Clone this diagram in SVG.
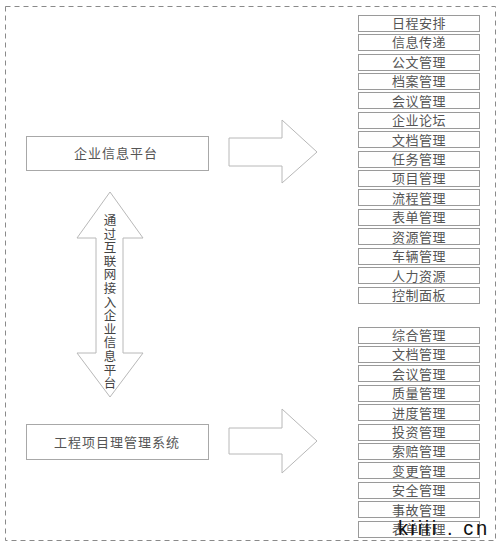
<svg xmlns="http://www.w3.org/2000/svg" width="500" height="547" viewBox="0 0 500 547">
<style>
.frame{fill:none;stroke:#8a8a8a;stroke-width:1;stroke-dasharray:5,4}
.box{fill:#fff;stroke:#9a9a9a;stroke-width:1}
.big{fill:#fff;stroke:#a8a8a8;stroke-width:1}
.arr{fill:#fff;stroke:#b8b8b8;stroke-width:1}
.t{font-family:"Noto Sans CJK SC","Noto Sans CJK JP",sans-serif;font-size:13px;fill:#555;text-anchor:middle;letter-spacing:0.5px}
.tb{font-family:"Noto Sans CJK SC","Noto Sans CJK JP",sans-serif;font-size:13px;fill:#555;text-anchor:middle;letter-spacing:1px}
.tv{font-family:"Noto Sans CJK SC","Noto Sans CJK JP",sans-serif;font-size:12.5px;fill:#444;writing-mode:vertical-rl;letter-spacing:1.1px}
</style>
<rect width="500" height="547" fill="#fff"/>
<rect class="frame" x="5.5" y="6.5" width="490" height="534"/>

<g id="connectors">
<polygon class="arr" points="229,138 282,138 282,120 317,152 282,183 282,166 229,166"/>
<polygon class="arr" points="229,428 282,428 282,409 317,441 282,473 282,454 229,454"/>
<polygon class="arr" points="110,192 143,238 123,238 123,353 143,353 110,397 77,353 96,353 96,238 77,238"/>
<text class="tv" x="110" y="214">通过互联网接入企业信息平台</text>
</g>

<g id="enterprise-platform"><rect class="big" x="26.5" y="136.5" width="182" height="34"/><text class="tb" x="116" y="158">企业信息平台</text></g>
<g id="project-system"><rect class="big" x="26.5" y="424.5" width="182" height="35"/><text class="tb" x="117" y="446.5">工程项目理管理系统</text></g>

<g id="n1"><rect class="box" x="358.5" y="15.5" width="121" height="16"/><text class="t" x="419" y="28">日程安排</text></g>
<g id="n2"><rect class="box" x="358.5" y="34.5" width="121" height="16"/><text class="t" x="419" y="47.4">信息传递</text></g>
<g id="n3"><rect class="box" x="358.5" y="54.5" width="121" height="16"/><text class="t" x="419" y="66.9">公文管理</text></g>
<g id="n4"><rect class="box" x="358.5" y="73.5" width="121" height="16"/><text class="t" x="419" y="86.3">档案管理</text></g>
<g id="n5"><rect class="box" x="358.5" y="92.5" width="121" height="16"/><text class="t" x="419" y="105.7">会议管理</text></g>
<g id="n6"><rect class="box" x="358.5" y="112.5" width="121" height="16"/><text class="t" x="419" y="125.2">企业论坛</text></g>
<g id="n7"><rect class="box" x="358.5" y="131.5" width="121" height="16"/><text class="t" x="419" y="144.6">文档管理</text></g>
<g id="n8"><rect class="box" x="358.5" y="151.5" width="121" height="16"/><text class="t" x="419" y="164">任务管理</text></g>
<g id="n9"><rect class="box" x="358.5" y="170.5" width="121" height="16"/><text class="t" x="419" y="183.4">项目管理</text></g>
<g id="n10"><rect class="box" x="358.5" y="189.5" width="121" height="16"/><text class="t" x="419" y="202.9">流程管理</text></g>
<g id="n11"><rect class="box" x="358.5" y="209.5" width="121" height="16"/><text class="t" x="419" y="222.3">表单管理</text></g>
<g id="n12"><rect class="box" x="358.5" y="228.5" width="121" height="16"/><text class="t" x="419" y="241.7">资源管理</text></g>
<g id="n13"><rect class="box" x="358.5" y="248.5" width="121" height="16"/><text class="t" x="419" y="261.2">车辆管理</text></g>
<g id="n14"><rect class="box" x="358.5" y="267.5" width="121" height="16"/><text class="t" x="419" y="280.6">人力资源</text></g>
<g id="n15"><rect class="box" x="358.5" y="287.5" width="121" height="16"/><text class="t" x="419" y="300">控制面板</text></g>

<g id="m1"><rect class="box" x="358.5" y="327.5" width="121" height="16"/><text class="t" x="419" y="340">综合管理</text></g>
<g id="m2"><rect class="box" x="358.5" y="346.5" width="121" height="16"/><text class="t" x="419" y="359.4">文档管理</text></g>
<g id="m3"><rect class="box" x="358.5" y="365.5" width="121" height="16"/><text class="t" x="419" y="378.8">会议管理</text></g>
<g id="m4"><rect class="box" x="358.5" y="385.5" width="121" height="16"/><text class="t" x="419" y="398.2">质量管理</text></g>
<g id="m5"><rect class="box" x="358.5" y="404.5" width="121" height="16"/><text class="t" x="419" y="417.6">进度管理</text></g>
<g id="m6"><rect class="box" x="358.5" y="424.5" width="121" height="16"/><text class="t" x="419" y="437">投资管理</text></g>
<g id="m7"><rect class="box" x="358.5" y="443.5" width="121" height="16"/><text class="t" x="419" y="456.4">索赔管理</text></g>
<g id="m8"><rect class="box" x="358.5" y="462.5" width="121" height="16"/><text class="t" x="419" y="475.8">变更管理</text></g>
<g id="m9"><rect class="box" x="358.5" y="482.5" width="121" height="16"/><text class="t" x="419" y="495.2">安全管理</text></g>
<g id="m10"><rect class="box" x="358.5" y="501.5" width="121" height="16"/><text class="t" x="419" y="514.6">事故管理</text></g>
<g id="m11"><rect class="box" x="358.5" y="521.5" width="121" height="16"/><text class="t" x="419" y="534">表单管理</text></g>

<text x="398" y="535" font-family="Liberation Sans, Arial, sans-serif" font-size="20" fill="#111" textLength="89" lengthAdjust="spacing">kiiii . cn</text>
</svg>
